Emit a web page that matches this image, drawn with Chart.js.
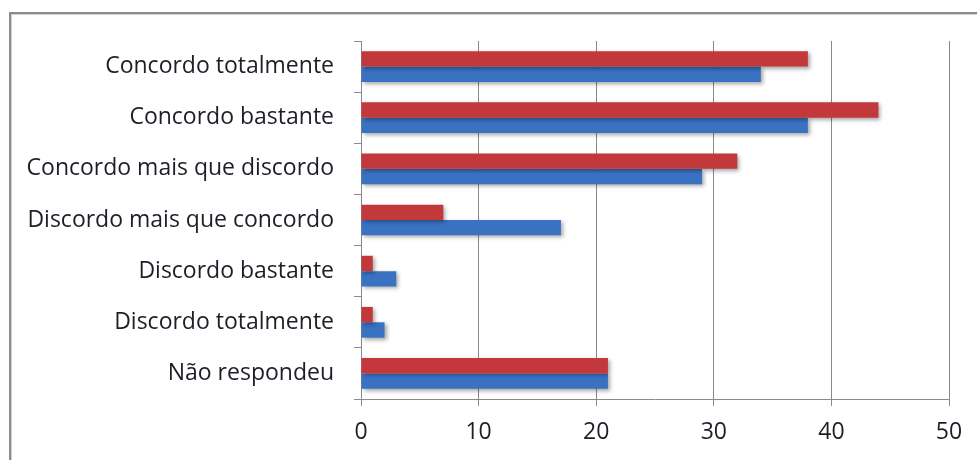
<!DOCTYPE html>
<html>
<head>
<meta charset="utf-8">
<script src="https://cdn.jsdelivr.net/npm/chart.js@4"></script>
<style>
  html, body { margin: 0; padding: 0; background: #fff; overflow: hidden; }
  #wrap { position: relative; width: 977px; height: 460px; }
  #frame { position: absolute; left: 9px; top: 12px; width: 1200px; height: 800px;
           border-top: 2px solid #8c8c8c; border-left: 2px solid #8c8c8c;
           box-shadow: inset 1px 1px 0 #d0d0d0; }
  canvas { position: absolute; left: 0; top: 0; }
</style>
</head>
<body>
<div id="wrap">
  <div id="frame"></div>
  <canvas id="c" width="977" height="460"></canvas>
</div>
<script>
const categories = [
  'Concordo totalmente',
  'Concordo bastante',
  'Concordo mais que discordo',
  'Discordo mais que concordo',
  'Discordo bastante',
  'Discordo totalmente',
  'Não respondeu'
];
const serieVermelha = [38, 44, 32, 7, 1, 1, 21];
const serieAzul = [34, 38, 29, 17, 3, 2, 21];
const xTicks = [0, 10, 20, 30, 40, 50];

// soft drop shadow under the bars
const barShadow = {
  id: 'barShadow',
  beforeDatasetsDraw(chart) {
    const ctx = chart.ctx;
    ctx.save();
    ctx.shadowColor = 'rgba(0,0,0,0.35)';
    ctx.shadowBlur = 4;
    ctx.shadowOffsetX = 2;
    ctx.shadowOffsetY = 2;
  },
  afterDatasetsDraw(chart) {
    chart.ctx.restore();
  }
};

const labelFont = { family: '"Open Sans", sans-serif', size: 23 };

new Chart(document.getElementById('c'), {
  type: 'bar',
  data: {
    labels: categories,
    datasets: [
      { label: 'Série 1', data: serieVermelha, backgroundColor: '#c3393b', borderWidth: 0 },
      { label: 'Série 2', data: serieAzul, backgroundColor: '#3a72c2', borderWidth: 0 }
    ]
  },
  options: {
    indexAxis: 'y',
    responsive: false,
    animation: false,
    devicePixelRatio: 1,
    layout: { padding: { top: 41, right: 28, left: 0, bottom: 0 } },
    datasets: { bar: { categoryPercentage: 0.6, barPercentage: 1.0 } },
    plugins: { legend: { display: false }, tooltip: { enabled: false } },
    scales: {
      x: {
        min: 0, max: 50,
        afterBuildTicks(scale) { scale.ticks = xTicks.map(v => ({ value: v })); },
        afterFit(scale) { scale.height = 61; },
        grid: { color: '#8a8a8a', lineWidth: 1, tickLength: 7, drawTicks: true },
        border: { color: '#8a8a8a', width: 1 },
        ticks: { color: '#1e1e28', font: labelFont, padding: 13 }
      },
      y: {
        afterFit(scale) { scale.width = 361; },
        grid: { offset: true, drawOnChartArea: false, color: '#8a8a8a', tickLength: 7 },
        border: { color: '#8a8a8a', width: 1 },
        ticks: { color: '#1e1e28', font: labelFont, padding: 20 }
      }
    }
  },
  plugins: [barShadow]
});
</script>
</body>
</html>
